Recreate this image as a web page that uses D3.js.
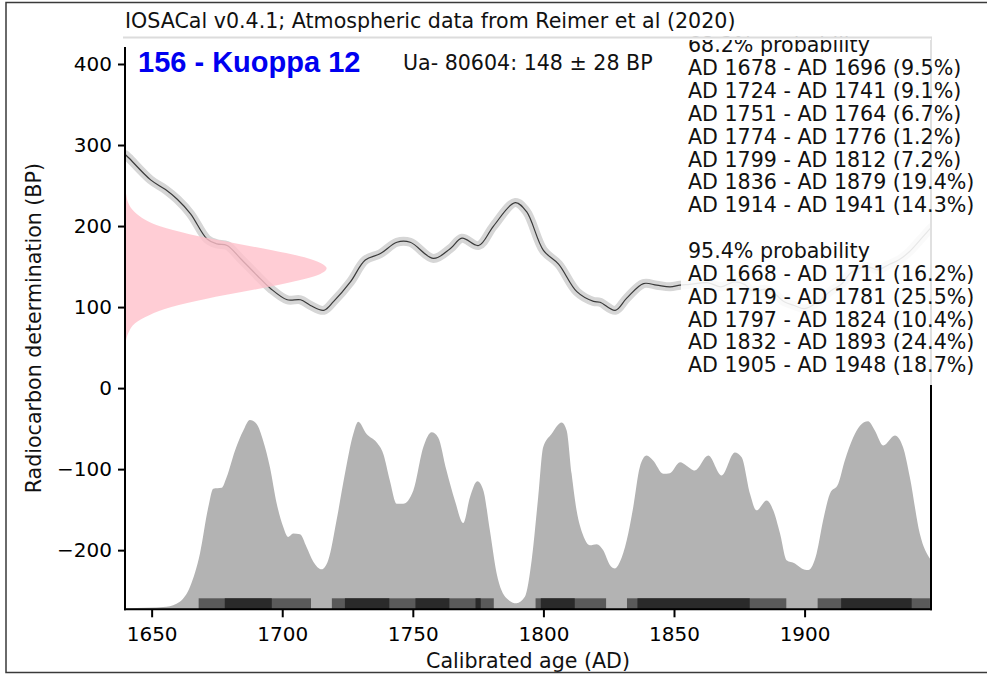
<!DOCTYPE html>
<html>
<head>
<meta charset="utf-8">
<script src="https://cdn.jsdelivr.net/npm/d3@7"></script>
<style>
  html, body { margin: 0; padding: 0; background: #fff; }
  svg { display: block; }
  text { font-family: "DejaVu Sans", sans-serif; }
</style>
</head>
<body>
<svg id="chart" width="987" height="675"></svg>
<script>
// ---------------- data ----------------
const titleText = "IOSACal v0.4.1; Atmospheric data from Reimer et al (2020)";
const sampleName = "156 - Kuoppa 12";
const sampleDate = "Ua- 80604: 148 \u00b1 28 BP";
const xLabel = "Calibrated age (AD)";
const yLabel = "Radiocarbon determination (BP)";

const xTicks = [1650, 1700, 1750, 1800, 1850, 1900];
const yTicks = [400, 300, 200, 100, 0, -100, -200];

// calibration curve (IntCal20 segment)
const calYears = [1640, 1641.3, 1649.6, 1655.3, 1659.8, 1664.9, 1671.2, 1675, 1678.9, 1684, 1690.4, 1695.5,
  1701.9, 1707, 1710.8, 1715.9, 1719.7, 1726.1, 1731.8, 1737.6, 1743.9, 1749, 1757.9, 1764.3, 1768.8,
  1775.2, 1780.9, 1789.2, 1793.5, 1800, 1805.8, 1812.8, 1819.2, 1821.7, 1827.5, 1831.9, 1838.3, 1843.4,
  1848.5, 1852.3, 1856, 1863, 1868, 1873, 1877, 1880, 1885, 1888, 1892, 1896, 1900, 1905, 1910, 1914,
  1918, 1924, 1928, 1932, 1936, 1940, 1944, 1948.4];
const calBP = [288, 284, 257, 245, 233, 215, 184, 178, 176, 160, 139, 123,
  109, 109, 102, 96, 107, 131, 158, 166, 180, 180, 160, 172, 185,
  176, 200, 229, 218, 170, 153, 119, 107, 106, 96, 111, 129, 127,
  125, 127, 128, 130, 125, 131, 128, 120, 122, 118, 107, 102, 98, 106, 120, 128,
  143, 150, 146, 152, 158, 168, 182, 198];

// sample radiocarbon determination (BP) – relative density
const pinkBP = [245, 240, 230, 220, 210, 200, 190, 180, 170, 160, 150, 148, 140, 130, 120, 110, 100, 90, 80, 70, 60, 50];
const pinkDensity = [0, 0.005, 0.014, 0.037, 0.085, 0.17, 0.32, 0.52, 0.73, 0.91, 0.995, 1.0, 0.96, 0.81, 0.61, 0.40, 0.23, 0.12, 0.05, 0.02, 0.006, 0];

// calibrated probability distribution (relative to maximum)
const distYears = [1639.8, 1640.4, 1655.7, 1660.8, 1664.7, 1668.5, 1671.7, 1673.6, 1676.8, 1678.7, 1681.9, 1685.1,
  1687.6, 1690.2, 1692.7, 1695.3, 1697.9, 1700.4, 1702.3, 1704.2, 1706.8, 1709.3, 1711.9, 1715.1,
  1717.6, 1720.8, 1724, 1727.2, 1729.1, 1732.3, 1736.1, 1738.7, 1741.2, 1743.8, 1746.3, 1750.2,
  1754, 1757.2, 1759.7, 1762.9, 1766.1, 1769.3, 1771.9, 1774.7, 1777, 1779.5, 1782.1, 1785.9,
  1789.7, 1792.9, 1795.5, 1798, 1799.9, 1803.1, 1807, 1808.9, 1810.8, 1812.7, 1815.2, 1817.8,
  1820.4, 1822.9, 1825.5, 1827.4, 1829.3, 1831.9, 1834.4, 1836.9, 1839.5, 1842, 1845.9, 1848.4,
  1852.3, 1854.8, 1858, 1863.1, 1868.2, 1873.3, 1875.9, 1879.1, 1881.6, 1885.5, 1888, 1890.6,
  1893.1, 1896.3, 1898.9, 1901.4, 1904.6, 1907.1, 1909.7, 1912.9, 1915.4, 1918.6, 1921.2, 1924.3,
  1926.9, 1930.1, 1934.6, 1937.7, 1940.3, 1944.1, 1948.4];
const distProb = [0, 0.004, 0.014, 0.04, 0.119, 0.295, 0.54, 0.637, 0.642, 0.698, 0.838, 0.944,
  1.0, 0.979, 0.891, 0.751, 0.558, 0.435, 0.382, 0.4, 0.396, 0.329, 0.251, 0.211,
  0.259, 0.47, 0.716, 0.926, 0.991, 0.926, 0.882, 0.821, 0.681, 0.558, 0.558, 0.628,
  0.856, 0.935, 0.908, 0.733, 0.575, 0.456, 0.593, 0.677, 0.628, 0.417, 0.189, 0.058,
  0.032, 0.066, 0.259, 0.593, 0.856, 0.926, 0.987, 0.944, 0.716, 0.523, 0.391, 0.338,
  0.344, 0.312, 0.233, 0.216, 0.251, 0.365, 0.54, 0.751, 0.812, 0.786, 0.716, 0.719,
  0.777, 0.759, 0.733, 0.812, 0.707, 0.829, 0.803, 0.611, 0.523, 0.575, 0.523, 0.4,
  0.259, 0.242, 0.216, 0.207, 0.295, 0.47, 0.611, 0.663, 0.786, 0.908, 0.97, 0.993,
  0.944, 0.865, 0.918, 0.856, 0.698, 0.4, 0.26];

// probability ranges
const range68Start = [1678, 1724, 1751, 1774, 1799, 1836, 1914];
const range68End   = [1696, 1741, 1764, 1776, 1812, 1879, 1941];
const range68Pct   = ["9.5%", "9.1%", "6.7%", "1.2%", "7.2%", "19.4%", "14.3%"];
const range95Start = [1668, 1719, 1797, 1832, 1905];
const range95End   = [1711, 1781, 1824, 1893, 1948];
const range95Pct   = ["16.2%", "25.5%", "10.4%", "24.4%", "18.7%"];

// ---------------- layout ----------------
const svg = d3.select("#chart");
const plot = { left: 125, right: 931, top: 37.5, bottom: 609.3 };
const xDomain = [1639.8, 1948.4];
const yDomain = [-273, 432.7];
const distPeakBP = -39.4;     // height of the distribution peak on the BP axis
const pinkPeakYear = 1717;     // horizontal extent of the sample density
const barPx = 11;
const fs = "20.6px";

const x = d3.scaleLinear().domain(xDomain).range([plot.left, plot.right]);
const y = d3.scaleLinear().domain(yDomain).range([plot.bottom, plot.top]);
const probToBP = d3.scaleLinear().domain([0, 1]).range([yDomain[0], distPeakBP]);
const densToYear = d3.scaleLinear().domain([0, 1]).range([xDomain[0], pinkPeakYear]);

svg.append("defs").append("clipPath").attr("id", "clip")
  .append("rect").attr("x", plot.left).attr("y", plot.top)
  .attr("width", plot.right - plot.left).attr("height", plot.bottom - plot.top);

const g = svg.append("g").attr("clip-path", "url(#clip)");

// calibrated distribution
const distData = distYears.map((yr, i) => [yr, distProb[i]]);
g.append("path")
  .datum(distData)
  .attr("fill", "#b3b3b3")
  .attr("d", d3.area().curve(d3.curveMonotoneX)
    .x(d => x(d[0])).y0(y(yDomain[0])).y1(d => y(probToBP(d[1]))));

// range bars
const bars95 = range95Start.map((s, i) => ({ s, e: range95End[i] }));
const bars68 = range68Start.map((s, i) => ({ s, e: range68End[i] }));
g.selectAll("rect.r95").data(bars95).join("rect").attr("class", "r95")
  .attr("x", d => x(d.s)).attr("width", d => x(d.e) - x(d.s))
  .attr("y", y(yDomain[0]) - barPx).attr("height", barPx).attr("fill", "#5a5a5a");
g.selectAll("rect.r68").data(bars68).join("rect").attr("class", "r68")
  .attr("x", d => x(d.s)).attr("width", d => x(d.e) - x(d.s))
  .attr("y", y(yDomain[0]) - barPx).attr("height", barPx).attr("fill", "#2a2a2a");

// calibration curve
const calData = calYears.map((yr, i) => [yr, calBP[i]]);
const calLine = d3.line().curve(d3.curveCatmullRom.alpha(0.5)).x(d => x(d[0])).y(d => y(d[1]));
g.append("path").datum(calData).attr("fill", "none")
  .attr("stroke", "#d6d6d6").attr("stroke-width", 9).attr("stroke-linejoin", "round")
  .attr("stroke-linecap", "round").attr("d", calLine);
g.append("path").datum(calData).attr("fill", "none")
  .attr("stroke", "#3a3a3a").attr("stroke-width", 1.2).attr("d", calLine);

// sample determination (pink)
const pinkData = pinkBP.map((bp, i) => [bp, pinkDensity[i]]);
g.append("path").datum(pinkData)
  .attr("fill", "#ffc0cb").attr("fill-opacity", 0.8)
  .attr("d", d3.area().curve(d3.curveMonotoneY)
    .y(d => y(d[0])).x0(x(xDomain[0])).x1(d => x(densToYear(d[1]))));

// spines
svg.append("line").attr("x1", plot.left).attr("x2", plot.left).attr("y1", 47).attr("y2", plot.bottom + 1)
  .attr("stroke", "#000").attr("stroke-width", 2);
svg.append("line").attr("x1", plot.left - 1).attr("x2", plot.right + 1).attr("y1", plot.bottom).attr("y2", plot.bottom)
  .attr("stroke", "#000").attr("stroke-width", 2);
svg.append("line").attr("x1", plot.right).attr("x2", plot.right).attr("y1", plot.top).attr("y2", plot.bottom + 1)
  .attr("stroke", "#000").attr("stroke-width", 2);

// axes
const fmt = d => (d < 0 ? "\u2212" + Math.abs(d) : String(d));
const xAxis = svg.append("g").attr("transform", `translate(0,${plot.bottom})`)
  .call(d3.axisBottom(x).tickValues(xTicks).tickFormat(d3.format("d")).tickSize(8).tickPadding(6));
const yAxis = svg.append("g").attr("transform", `translate(${plot.left},0)`)
  .call(d3.axisLeft(y).tickValues(yTicks).tickFormat(fmt).tickSize(7).tickPadding(6));
[xAxis, yAxis].forEach(a => {
  a.select(".domain").remove();
  a.selectAll(".tick line").attr("stroke", "#000").attr("stroke-width", 2);
  a.selectAll(".tick text").attr("fill", "#000").style("font-family", "DejaVu Sans")
    .style("font-size", "20px");
});
xAxis.selectAll(".tick text").attr("dy", "0.9em");

svg.append("text").attr("x", (plot.left + plot.right) / 2).attr("y", 668)
  .attr("text-anchor", "middle").style("font-size", fs).attr("fill", "#111").text(xLabel);
svg.append("text").attr("transform", `translate(41,${(47 + plot.bottom) / 2}) rotate(-90)`)
  .attr("text-anchor", "middle").style("font-size", fs).attr("fill", "#111").text(yLabel);

// sample labels
svg.append("text").attr("x", 138).attr("y", 71.5)
  .style("font-family", "Liberation Sans, Arial, sans-serif").style("font-weight", "bold")
  .style("font-size", "29px").attr("fill", "#0000f0").text(sampleName);
svg.append("text").attr("x", 403).attr("y", 70).style("font-size", fs).attr("fill", "#111").text(sampleDate);

// legend box (semi-opaque)
svg.append("rect").attr("x", 681).attr("y", plot.top).attr("width", plot.right + 2 - 681).attr("height", 385 - plot.top)
  .attr("fill", "#fff").attr("fill-opacity", 0.88);

const legendLines = ["68.2% probability"]
  .concat(range68Start.map((s, i) => `AD ${s} - AD ${range68End[i]} (${range68Pct[i]})`))
  .concat([""])
  .concat(["95.4% probability"])
  .concat(range95Start.map((s, i) => `AD ${s} - AD ${range95End[i]} (${range95Pct[i]})`));
svg.append("g").selectAll("text").data(legendLines).join("text")
  .attr("x", 688).attr("y", (d, i) => 52.3 + i * 22.86)
  .style("font-size", fs).attr("fill", "#111").text(d => d);

// title strip (covers the top of the first legend line)
svg.append("rect").attr("x", 0).attr("y", 0).attr("width", 987).attr("height", 36.5).attr("fill", "#fff");
svg.append("rect").attr("x", 681).attr("y", 36.5).attr("width", plot.right - 681).attr("height", 3.5).attr("fill", "#fff");
svg.append("line").attr("x1", 123).attr("x2", plot.right + 1).attr("y1", plot.top).attr("y2", plot.top)
  .attr("stroke", "#dcdcdc").attr("stroke-width", 2);
svg.append("text").attr("x", 125).attr("y", 27.5).style("font-size", fs).attr("fill", "#111").text(titleText);

// outer frame
svg.append("rect").attr("x", 6).attr("y", 2.5).attr("width", 1000).attr("height", 670)
  .attr("fill", "none").attr("stroke", "#3a3a3a").attr("stroke-width", 1.5);
</script>
</body>
</html>
